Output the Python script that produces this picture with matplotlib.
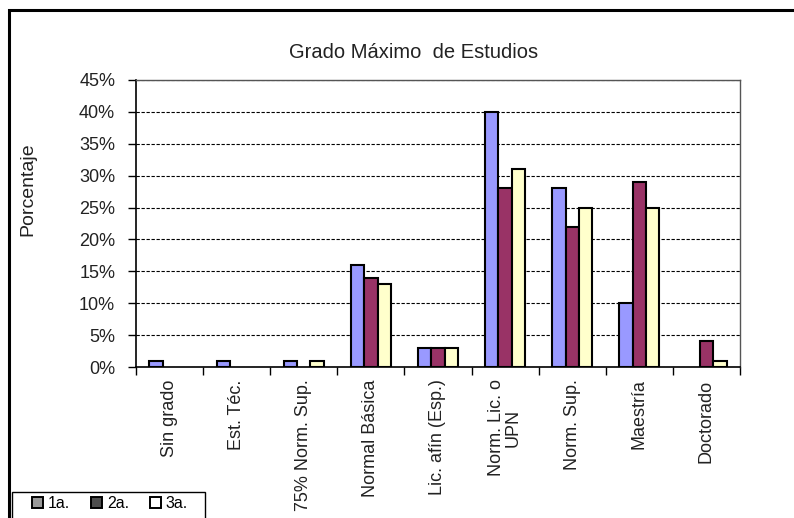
import matplotlib
matplotlib.use('Agg')
import matplotlib.pyplot as plt
import matplotlib.ticker as ticker
from matplotlib.patches import Patch, Rectangle
import numpy as np

plt.rcParams['font.family'] = ['Liberation Sans', 'DejaVu Sans']

categories = ['Sin grado', 'Est. Téc.', '75% Norm. Sup.', 'Normal Básica',
              'Lic. afín (Esp.)', 'Norm. Lic. o\nUPN', 'Norm. Sup.', 'Maestría', 'Doctorado']
series_names = ['1a.', '2a.', '3a.']
v1a = [1, 1, 1, 16, 3, 40, 28, 10, 0]
v2a = [0, 0, 0, 14, 3, 28, 22, 29, 4]
v3a = [0, 0, 1, 13, 3, 31, 25, 25, 1]
colors = ['#9999FF', '#993366', '#FFFFCC']
legend_colors = ['#999999', '#4d4d4d', '#ffffff']

fig = plt.figure(figsize=(7.94, 5.18), dpi=100)
ax = fig.add_axes([136/794, 1 - 367/518, (740 - 136)/794, (367 - 80)/518])

x = np.arange(len(categories))
width = 0.2
for i, vals in enumerate([v1a, v2a, v3a]):
    vals = np.array(vals, dtype=float)
    keep = vals > 0  # Excel draws nothing for empty cells
    ax.bar(x[keep] + (i - 1) * width, vals[keep], width, color=colors[i], edgecolor='black',
           linewidth=1.5, zorder=3)

ax.set_xlim(-0.5, len(categories) - 0.5)
ax.set_ylim(0, 45)
ax.yaxis.set_major_locator(ticker.MultipleLocator(5))
ax.yaxis.set_major_formatter(ticker.FuncFormatter(lambda v, p: '%d%%' % v))
ax.grid(axis='y', color='black', linestyle=(0, (3, 1.5)), linewidth=0.8, zorder=0)

ax.set_xticks(x)
ax.set_xticklabels(categories, rotation=90, va='top', ha='center', fontsize=13,
                   color='#222222', linespacing=0.95)
ax.set_xticks(np.arange(-0.5, len(categories), 1), minor=True)
ax.tick_params(axis='x', which='major', length=0, pad=9)
ax.tick_params(axis='x', which='minor', length=6, width=1, direction='out')
ax.tick_params(axis='y', length=6, width=1, pad=9, labelsize=13, labelcolor='#222222')

for s in ['top', 'right']:
    ax.spines[s].set_color('#555555')
    ax.spines[s].set_linewidth(1)
for s in ['left', 'bottom']:
    ax.spines[s].set_color('black')
    ax.spines[s].set_linewidth(1.2)

fig.text(28/794, 1 - 189/518, 'Porcentaje', rotation=90, ha='center', va='center',
         fontsize=14, color='#222222')
fig.text(414/794, 1 - 52/518, 'Grado Máximo  de Estudios', ha='center', va='center',
         fontsize=14.5, color='#222222')

# outer chart frame
fig.patches.append(Rectangle((9/794, -0.1), 1.0, 1 - 10/518 + 0.1, transform=fig.transFigure,
                             fill=False, edgecolor='black', linewidth=2.2))

# legend box, cut by the bottom edge as in the original
fig.patches.append(Rectangle((12/794, -0.05), (205 - 12)/794, 0.05 + 1 - 492/518,
                             transform=fig.transFigure, fill=False, edgecolor='black',
                             linewidth=1))
handles = [Patch(facecolor=c, edgecolor='black', linewidth=1.4) for c in legend_colors]
leg = fig.legend(handles, series_names, loc='upper left', bbox_to_anchor=(32/794, 1 - 496/518),
                 ncol=3, frameon=False, fontsize=11.5, borderpad=0, borderaxespad=0,
                 handlelength=0.7, handleheight=0.7, handletextpad=0.3, columnspacing=1.3)

fig.savefig('out.png', dpi=100)
plt.close()
